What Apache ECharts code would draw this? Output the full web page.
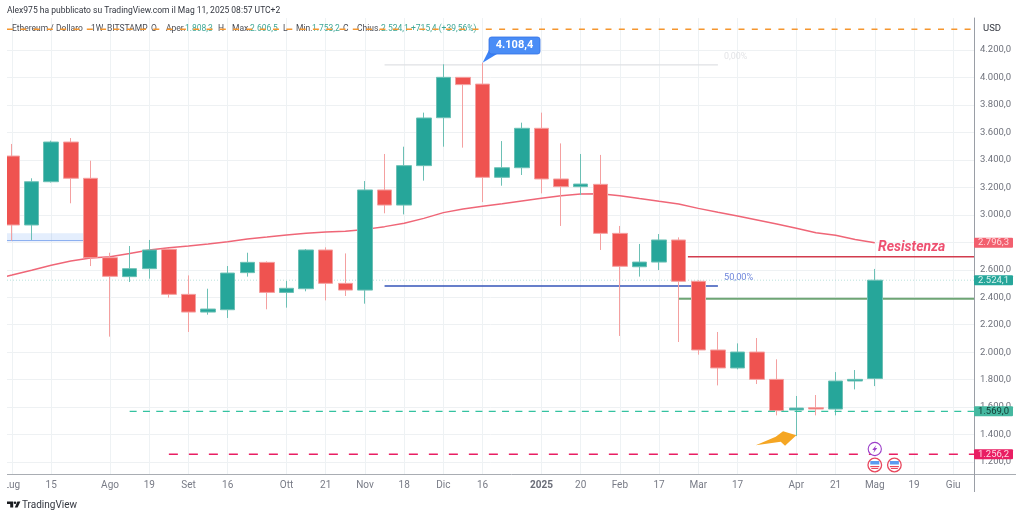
<!DOCTYPE html>
<html>
<head>
<meta charset="utf-8">
<style>html,body{margin:0;padding:0;background:#fff}#main{width:1024px;height:516px}</style>
<script src="https://cdn.jsdelivr.net/npm/echarts@6/dist/echarts.min.js"></script>
</head>
<body>
<div id="main"></div>
<script>
'use strict';

// weekly candles, one entry per week
var opens  = [3428,2926,3241,3530,3266,2688,2550,2608,2749,2421,2292,2309,2579,2654,2435,2462,2744,2501,2452,3181,3071,3358,3707,4001,3952,3273,3343,3630,3261,3205,3222,2865,2622,2656,2817,2516,2016,1885,2001,1802,1579,1596,1586,1790,1808];
var closes = [2926,3241,3530,3266,2688,2552,2608,2744,2421,2292,2314,2576,2654,2435,2465,2744,2501,2452,3181,3071,3358,3705,4001,3948,3273,3343,3630,3261,3205,3224,2865,2625,2656,2817,2516,2016,1885,2001,1802,1574,1593,1586,1790,1802,2524];
var lows   = [2812,2817,3235,3084,2627,2113,2511,2535,2397,2147,2273,2249,2550,2312,2324,2443,2377,2409,2353,3011,3003,3249,3496,3489,3093,3212,3290,3156,2919,3144,2744,2118,2550,2598,2074,1982,1758,1875,1768,1540,1389,1540,1540,1729,1753];
var highs  = [3516,3266,3540,3559,3394,2724,2773,2817,2758,2559,2462,2627,2724,2661,2518,2751,2763,2719,3246,3443,3496,3744,4096,4001,4108,3537,3671,3744,3520,3443,3436,2919,2788,2860,2836,2524,2147,2064,2103,1948,1681,1688,1855,1870,2606];
var emaValues = [2562,2597,2633,2663,2685,2695,2719,2744,2761,2773,2788,2804,2824,2838,2853,2865,2875,2880,2894,2914,2938,2974,3016,3042,3062,3081,3101,3120,3139,3152,3154,3139,3118,3098,3079,3047,3018,2991,2962,2933,2902,2870,2851,2821,2796];
var emaBefore = 2528; // week before the first visible candle, the line enters from off the chart

// time axis: week index -> label
var xTickIndex  = [0,2,5,7,9,11,14,16,18,20,22,24,27,29,31,33,35,37,40,42,44,46,48];
var xTickLabels = ['Lug','15','Ago','19','Set','16','Ott','21','Nov','18','Dic','16','2025','20','Feb','17','Mar','17','Apr','21','Mag','19','Giu'];
var yTicks = [1200,1400,1600,1800,2000,2200,2400,2600,2800,3000,3200,3400,3600,3800,4000,4200];

// drawn levels
var topLevel = 4351, fibZero = 4091, fibHalf = 2482, resistLevel = 2695, greenLevel = 2389;
var lastPrice = 2524.1, supportLevel = 1569, lowLevel = 1256.2, emaLast = 2796.3;
var boxTop = 2865, boxBottom = 2812;

var xMin = -0.255, xMax = 49.06;
var yMin = 1113, yMax = 4433;

var RED = '#ef5350', GREEN = '#26a69a';
var FONT = 'Roboto';
var LEGEND_SIZE = 8.5;

function fmt(v) {
  var s = v.toFixed(1).replace('.', ',');
  return s.replace(/^(\d)(\d{3})/, '$1.$2');
}

function hLine(name, from, to, level, color, width, type, z) {
  return {
    name: name, type: 'line', z: z, silent: true, symbol: 'none', clip: true,
    data: [[from, level], [to, level]],
    lineStyle: { color: color, width: width, type: type }
  };
}

var candleData = [];
var emaData = [[-1, emaBefore]];
for (var i = 0; i < opens.length; i++) {
  candleData.push([i, opens[i], closes[i], lows[i], highs[i]]);
  emaData.push([i, emaValues[i]]);
}

var chart = echarts.init(document.getElementById('main'), null, { renderer: 'canvas' });

var option = {
  animation: false,
  backgroundColor: '#ffffff',
  textStyle: { fontFamily: FONT },
  grid: { left: 7, right: 50, top: 18, bottom: 42 },
  xAxis: {
    type: 'value', min: xMin, max: xMax,
    axisLine: { show: false },
    axisTick: { show: false, customValues: xTickIndex },
    splitLine: { show: true, lineStyle: { color: '#eef2f4', width: 1 } },
    axisLabel: {
      customValues: xTickIndex, margin: 6, color: '#787b86', fontSize: 10, fontFamily: FONT,
      formatter: function (v) {
        var s = xTickLabels[xTickIndex.indexOf(v)];
        return s === '2025' ? '{b|2025}' : s;
      },
      rich: { b: { fontWeight: 'bold', color: '#6a6d78', fontSize: 10, fontFamily: FONT } }
    }
  },
  yAxis: {
    type: 'value', position: 'right', min: yMin, max: yMax, scale: true,
    axisLine: { show: true, onZero: false, lineStyle: { color: '#9a9ea6', width: 1 } },
    axisTick: { show: false, customValues: yTicks },
    splitLine: { show: true, lineStyle: { color: '#eef1f3', width: 1 } },
    axisLabel: {
      customValues: yTicks, margin: 6, color: '#6f727c', fontSize: 9.5, fontFamily: FONT,
      formatter: function (v) { return fmt(v); }
    }
  },
  series: [
    {
      name: 'box', type: 'line', z: 1, silent: true, symbol: 'none',
      data: [[xMin, boxBottom], [3.63, boxBottom]],
      lineStyle: { color: '#7ea6ee', width: 1 },
      markArea: {
        silent: true,
        itemStyle: { color: 'rgba(66,133,244,0.14)' },
        data: [[{ coord: [xMin, boxTop] }, { coord: [3.63, boxBottom] }]]
      }
    },
    hLine('lastPrice', xMin, xMax, lastPrice, '#9ad6cd', 0.7, [1, 2], 1),
    hLine('fibZero', 19, 36, fibZero, '#dfe1e4', 1.2, 'solid', 2),
    hLine('fibHalf', 19, 36, fibHalf, '#3455b8', 1.4, 'solid', 2),
    hLine('resist', 34.47, xMax, resistLevel, '#d23c4e', 1.5, 'solid', 2),
    hLine('green', 34, xMax, greenLevel, '#6ea574', 1.8, 'solid', 2),
    {
      name: 'EMA', type: 'line', z: 2, silent: true, symbol: 'none', clip: true,
      data: emaData,
      lineStyle: { color: '#ef6677', width: 1.5 }
    },
    {
      name: 'ETHUSD', type: 'candlestick', z: 3, silent: true, barWidth: 15, clip: true,
      encode: { x: 0, y: [1, 2, 3, 4] },
      data: candleData,
      itemStyle: {
        color: GREEN, color0: RED,
        borderColor: '#6cc0b5', borderColor0: '#f4a0a0', borderWidth: 1
      }
    },
    hLine('top', xMin, xMax, topLevel, '#f5962e', 1.5, [6, 7.3], 4),
    hLine('support', 6, xMax, supportLevel, '#34c2a0', 1.3, [7, 6.3], 4),
    hLine('low', 8, xMax, lowLevel, '#e91e63', 1.5, [9, 11], 4)
  ]
};
chart.setOption(option);

// everything below is annotation: anchored to the axes through convertToPixel
function px(x, y) { return chart.convertToPixel({ gridIndex: 0 }, [x, y]); }

function txt(x, y, s, size, color, extra) {
  var style = { x: x, y: y, text: s, fontSize: size, fill: color, fontFamily: FONT, textVerticalAlign: 'middle' };
  for (var k in (extra || {})) style[k] = extra[k];
  return { type: 'text', z: 1, silent: true, style: style };
}

function priceTag(value, bg, color) {
  var y = px(0, value)[1];
  return [
    { type: 'rect', z: 20, silent: true, shape: { x: 974, y: y - 5, width: 39, height: 10, r: 1 }, style: { fill: bg } },
    { type: 'text', z: 21, silent: true, style: { x: 993.5, y: y, text: fmt(value), fontSize: 9.5, fill: color, fontFamily: FONT, textAlign: 'center', textVerticalAlign: 'middle' } }
  ];
}

function flagIcon(cx, cy) {
  return [
    { type: 'circle', z: 20, silent: true, shape: { cx: cx, cy: cy, r: 6.8 }, style: { fill: '#fff', stroke: '#e8485e', lineWidth: 1.3 } },
    { type: 'rect', z: 21, silent: true, shape: { x: cx - 4.5, y: cy - 4, width: 9, height: 3.5 }, style: { fill: '#5b9bf0' } },
    { type: 'rect', z: 21, silent: true, shape: { x: cx - 4.5, y: cy + 1, width: 9, height: 1.2 }, style: { fill: '#e8485e' } },
    { type: 'rect', z: 21, silent: true, shape: { x: cx - 3.5, y: cy + 3, width: 7, height: 1 }, style: { fill: '#e8485e' } }
  ];
}

var headerY = 29;
var legendDark = '#4a4d55', legendVal = '#3fa796';
var elements = [
  txt(7, 11, 'Alex975 ha pubblicato su TradingView.com il Mag 11, 2025 08:57 UTC+2', LEGEND_SIZE, '#333740'),
  txt(12, headerY, 'Ethereum / Dollaro', LEGEND_SIZE, legendDark),
  txt(91, headerY, '1W', LEGEND_SIZE, legendDark),
  txt(107, headerY, 'BITSTAMP', LEGEND_SIZE, legendDark),
  txt(151, headerY, 'O', LEGEND_SIZE, legendDark),
  txt(166, headerY, 'Aper.', LEGEND_SIZE, legendDark),
  txt(185, headerY, '1.808,3', LEGEND_SIZE, legendVal),
  txt(218, headerY, 'H', LEGEND_SIZE, legendDark),
  txt(232, headerY, 'Max.', LEGEND_SIZE, legendDark),
  txt(250, headerY, '2.606,5', LEGEND_SIZE, legendVal),
  txt(283, headerY, 'L', LEGEND_SIZE, legendDark),
  txt(296, headerY, 'Min.', LEGEND_SIZE, legendDark),
  txt(312, headerY, '1.753,2', LEGEND_SIZE, legendVal),
  txt(343, headerY, 'C', LEGEND_SIZE, legendDark),
  txt(357, headerY, 'Chius.', LEGEND_SIZE, legendDark),
  txt(381, headerY, '2.524,1', LEGEND_SIZE, legendVal),
  txt(411, headerY, '+715,4 (+39,56%)', LEGEND_SIZE, legendVal),
  txt(983, 29, 'USD', 9.5, '#333740'),
  txt(724, px(0, fibZero)[1] - 8, '0,00%', 8.9, '#e3e4e7'),
  txt(724, px(0, fibHalf)[1] - 8, '50,00%', 9.2, '#6f86dc'),
  txt(878, 247, 'Resistenza', 14, '#ee5070', { fontWeight: 'bold', fontStyle: 'italic' }),
  txt(22, 505, 'TradingView', 10, '#333740'),
  // axis lines running past the plot
  { type: 'line', z: 5, silent: true, shape: { x1: 7, y1: 474.5, x2: 1016, y2: 474.5 }, style: { stroke: '#a9adb3', lineWidth: 1 } },
  { type: 'line', z: 5, silent: true, shape: { x1: 974.5, y1: 18, x2: 974.5, y2: 492 }, style: { stroke: '#9a9ea6', lineWidth: 1 } },
  // the plot ends at the left margin: cuts the first candle and the first label
  { type: 'rect', z: 30, silent: true, shape: { x: 0, y: 36, width: 7, height: 456 }, style: { fill: '#fff' } },
  // logo
  { type: 'polygon', z: 5, silent: true, shape: { points: [[7, 501.5], [13.2, 501.5], [13.2, 507.5], [10.2, 507.5], [10.2, 504], [7, 504]] }, style: { fill: '#1a1c20' } },
  { type: 'circle', z: 5, silent: true, shape: { cx: 15, cy: 502.8, r: 1.3 }, style: { fill: '#1a1c20' } },
  { type: 'polygon', z: 5, silent: true, shape: { points: [[17.4, 501.5], [20.4, 501.5], [17.6, 507.5], [14.8, 507.5]] }, style: { fill: '#1a1c20' } }
];

// callout on the high
var hi = px(24, highs[24]);
elements.push(
  { type: 'polygon', z: 20, silent: true, shape: { points: [hi, [489, 50], [497, 54]] }, style: { fill: '#3b82f6' } },
  { type: 'rect', z: 20, silent: true, shape: { x: 489, y: 37, width: 51, height: 17, r: 2.5 }, style: { fill: '#4a8df6', stroke: '#3371e6', lineWidth: 0.8 } },
  { type: 'text', z: 21, silent: true, style: { x: 514.5, y: 45.5, text: fmt(highs[24] + 0.4), fontSize: 11, fontWeight: 'bold', fill: '#fff', fontFamily: FONT, textAlign: 'center', textVerticalAlign: 'middle' } }
);

// orange arrow pointing at the april low
var tip = px(40, lows[40] + 7);
elements.push({
  type: 'polygon', z: 20, silent: true,
  shape: { points: [[tip[0] - 40.6, tip[1] + 10], [tip[0] - 20.6, tip[1] + 1.7], [tip[0] - 13.3, tip[1] - 4], tip, [tip[0] - 11.3, tip[1] + 10.7], [tip[0] - 15.6, tip[1] + 6.7]] },
  style: { fill: '#f5a623' }
});

// event icons
var mag = px(44, lowLevel)[0];
elements.push(
  { type: 'circle', z: 20, silent: true, shape: { cx: mag, cy: 449, r: 6.6 }, style: { fill: '#fff', stroke: '#9c3fc9', lineWidth: 1.1 } },
  { type: 'polygon', z: 21, silent: true, shape: { points: [[mag + 1.5, 445], [mag - 2.5, 450], [mag - 0.3, 450], [mag - 1.5, 453], [mag + 2.5, 448], [mag + 0.3, 448]] }, style: { fill: '#9c3fc9' } }
);
elements = elements.concat(flagIcon(mag, 465), flagIcon(mag + 19.6, 465));

// price tags on the right axis
elements = elements.concat(
  priceTag(emaLast, '#f2606f', '#ffd9dd'),
  priceTag(lastPrice, GREEN, '#d7f2ee'),
  priceTag(supportLevel, '#45b8a0', '#123a34'),
  priceTag(lowLevel, '#e91e63', '#ffd6e4')
);

chart.setOption({ graphic: { elements: elements } });
</script>
</body>
</html>
